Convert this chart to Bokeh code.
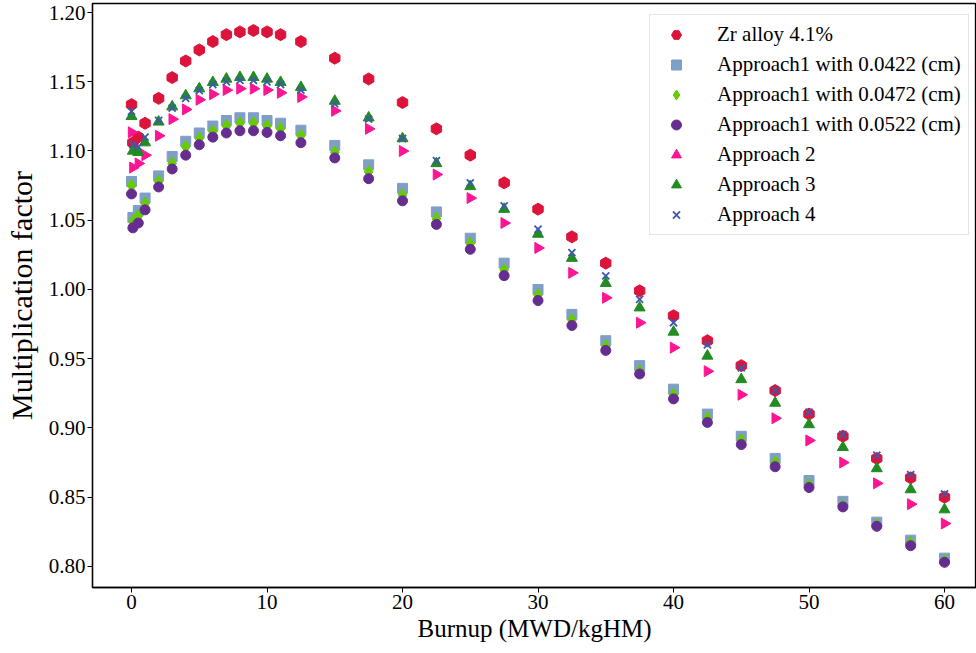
import math
from bokeh.plotting import figure
from bokeh.models import Range1d, FixedTicker, PrintfTickFormatter
from bokeh.embed import file_html
from bokeh.resources import INLINE

burnup = [0, 0.1, 0.5, 1, 2, 3, 4, 5, 6, 7, 8, 9, 10, 11, 12.5, 15, 17.5, 20, 22.5,
          25, 27.5, 30, 32.5, 35, 37.5, 40, 42.5, 45, 47.5, 50, 52.5, 55, 57.5, 60]

zr_alloy = [1.1335, 1.106, 1.110, 1.120, 1.138, 1.153, 1.165, 1.173, 1.179, 1.184, 1.186,
            1.187, 1.186, 1.184, 1.179, 1.167, 1.152, 1.135, 1.116, 1.097, 1.077, 1.058,
            1.038, 1.019, 0.999, 0.981, 0.963, 0.945, 0.927, 0.910, 0.894, 0.878, 0.864, 0.850]

a1_0422 = [1.078, 1.052, 1.057, 1.066, 1.082, 1.096, 1.107, 1.113, 1.118, 1.122, 1.124,
           1.124, 1.122, 1.120, 1.115, 1.104, 1.090, 1.073, 1.056, 1.037, 1.019, 1.000,
           0.982, 0.963, 0.945, 0.928, 0.910, 0.894, 0.878, 0.862, 0.847, 0.832, 0.819, 0.806]

a1_0472 = [1.075, 1.049, 1.053, 1.062, 1.078, 1.091, 1.103, 1.109, 1.114, 1.118, 1.120,
           1.120, 1.118, 1.116, 1.111, 1.099, 1.085, 1.068, 1.051, 1.033, 1.014, 0.996,
           0.978, 0.959, 0.941, 0.924, 0.907, 0.891, 0.875, 0.859, 0.844, 0.830, 0.817, 0.804]

a1_0522 = [1.069, 1.0445, 1.048, 1.0575, 1.074, 1.087, 1.097, 1.1045, 1.110, 1.113, 1.1146,
           1.1146, 1.1134, 1.111, 1.106, 1.095, 1.080, 1.064, 1.047, 1.029, 1.010, 0.992,
           0.974, 0.956, 0.939, 0.921, 0.904, 0.888, 0.872, 0.857, 0.843, 0.829, 0.815, 0.803]

approach2 = [1.1135, 1.088, 1.091, 1.097, 1.111, 1.123, 1.130, 1.137, 1.141, 1.144, 1.145,
             1.145, 1.144, 1.142, 1.139, 1.129, 1.116, 1.100, 1.083, 1.066, 1.048, 1.030,
             1.012, 0.994, 0.976, 0.958, 0.941, 0.924, 0.907, 0.891, 0.875, 0.860, 0.845, 0.831]

approach3 = [1.125, 1.100, 1.099, 1.106, 1.121, 1.132, 1.140, 1.145, 1.1496, 1.152, 1.1532,
             1.1532, 1.152, 1.1496, 1.146, 1.136, 1.124, 1.109, 1.091, 1.0744, 1.058, 1.040,
             1.0226, 1.0045, 0.9868, 0.9693, 0.952, 0.935, 0.918, 0.9025, 0.886, 0.8707, 0.8555, 0.841]

approach4 = [1.1286, 1.1045, 1.103, 1.110, 1.122, 1.131, 1.138, 1.1436, 1.148, 1.150, 1.151,
             1.151, 1.150, 1.148, 1.144, 1.134, 1.123, 1.109, 1.093, 1.077, 1.0604, 1.0435,
             1.0266, 1.0098, 0.9929, 0.976, 0.960, 0.9434, 0.927, 0.9114, 0.8953, 0.8803, 0.8663, 0.8524]

x_ticks = [0, 10, 20, 30, 40, 50, 60]
y_ticks = [0.80, 0.85, 0.90, 0.95, 1.00, 1.05, 1.10, 1.15, 1.20]

FONT = "Liberation Serif"

p = figure(width=976, height=653,
           x_range=Range1d(-2.88, 62.36), y_range=Range1d(0.7848, 1.2065),
           output_backend="svg", toolbar_location=None,
           min_border_left=92, min_border_right=0, min_border_top=3, min_border_bottom=66)

p.xgrid.grid_line_color = None
p.ygrid.grid_line_color = None
p.outline_line_color = "black"
p.outline_line_width = 1.3
p.background_fill_color = "white"
p.border_fill_color = "white"

p.xaxis.ticker = FixedTicker(ticks=x_ticks)
p.yaxis.ticker = FixedTicker(ticks=y_ticks)
p.yaxis.formatter = PrintfTickFormatter(format="%.2f")
p.xaxis.axis_label = "Burnup (MWD/kgHM)"
p.yaxis.axis_label = "Multiplication factor"

for ax in (p.xaxis[0], p.yaxis[0]):
    ax.axis_line_color = "black"
    ax.axis_line_width = 1.3
    ax.major_tick_line_color = "black"
    ax.major_tick_line_width = 1
    ax.major_tick_in = 0
    ax.major_tick_out = 5
    ax.minor_tick_line_color = None
    ax.major_label_text_font = FONT
    ax.major_label_text_font_size = "21px"
    ax.major_label_text_color = "black"
    ax.axis_label_text_font = FONT
    ax.axis_label_text_font_style = "normal"
    ax.axis_label_text_color = "black"
    ax.major_label_standoff = 2
    ax.axis_label_standoff = 3

p.yaxis.axis_label_standoff = 8
p.xaxis.axis_label_text_font_size = "25px"
p.yaxis.axis_label_text_font_size = "30px"

p.scatter(burnup, zr_alloy, marker="hex", angle=math.pi / 6, size=12,
          fill_color="#DC143C", line_color="#DC143C", legend_label="Zr alloy 4.1%")
p.scatter(burnup, a1_0422, marker="square", size=10,
          fill_color="#7F9EC8", line_color="#7F9EC8", legend_label="Approach1 with 0.0422 (cm)")
p.scatter(burnup, a1_0472, marker="diamond", size=13,
          fill_color="#66CC00", line_color="#66CC00", legend_label="Approach1 with 0.0472 (cm)")
p.scatter(burnup, a1_0522, marker="circle", size=10,
          fill_color="#662D91", line_color="#662D91", legend_label="Approach1 with 0.0522 (cm)")
p.scatter(burnup, approach2, marker="triangle", angle=-math.pi / 2, size=11,
          fill_color="#FF1493", line_color="#FF1493", legend_label="Approach 2")
p.scatter(burnup, approach3, marker="triangle", size=11,
          fill_color="#228B22", line_color="#228B22", legend_label="Approach 3")
p.scatter(burnup, approach4, marker="x", size=10, line_width=1.8,
          line_color="#3C5AAA", legend_label="Approach 4")

lg = p.legend[0]
lg.location = (557, 352)
lg.margin = 0
lg.padding = 7
lg.spacing = 5
lg.glyph_height = 25
lg.label_height = 25
lg.glyph_width = 38
lg.label_standoff = 22
lg.label_text_font = FONT
lg.label_text_font_size = "21px"
lg.label_text_color = "black"
lg.border_line_color = "#cccccc"
lg.border_line_width = 1
lg.background_fill_alpha = 0.8

open("out.html", "w").write(file_html(p, INLINE))
